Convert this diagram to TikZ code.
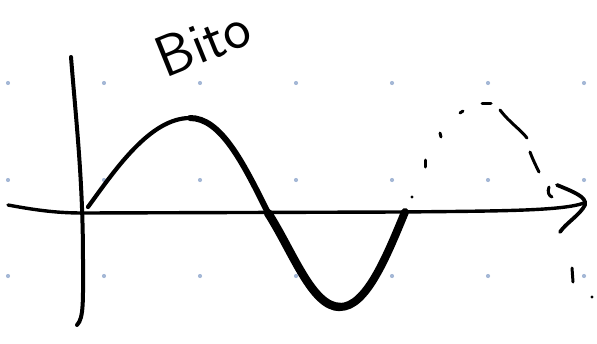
\documentclass[tikz,border=0pt]{standalone}
\usepackage{tikz}
\usetikzlibrary{calc}

\definecolor{dotblue}{RGB}{165,184,214}
\tikzset{
  pen/.style={line width=#1,line cap=round,line join=round},
  pen/.default=3pt,
}

\begin{document}
\begin{tikzpicture}[x=1pt,y=-1pt]
    \useasboundingbox (0,0) rectangle (597,343);
    % Prikgitter
    \foreach \x in {0,...,6}
      \foreach \y in {83,180,276}
        \fill[dotblue] (8+96*\x,\y) circle (2.1);
    % Lodret akse
    \coordinate (Ytop) at (71,57);
    \coordinate (Ybot) at (77,325);
    \draw[pen=4pt] (Ytop) .. controls (76,120) and (83,180) .. (83,260)
      .. controls (83,300) and (84,318) .. (Ybot);
    % Vandret akse med pil
    \coordinate (Xleft) at (8,205);
    \coordinate (Xtip) at (584,203);
    \draw[pen=3.4pt] (Xleft) .. controls (40,211) and (60,213) .. (83,213)
      -- (400,212) .. controls (500,211) and (562,211) .. (Xtip);
    \draw[pen=3.8pt] (557,185) .. controls (574,192) and (587,197) .. (585,205)
      .. controls (580,215) and (566,223) .. (560,232);
    % Bølgen (tykkere og tykkere)
    \coordinate (S0) at (88,207);
    \coordinate (Top) at (190,118);
    \coordinate (Z1) at (268,213);
    \coordinate (Bund) at (340,307);
    \coordinate (Z2) at (405,212);
    \draw[pen=4.2pt] (S0) .. controls (115,170) and (150,118) .. (Top);
    \draw[pen=6pt] (Top) .. controls (220,118) and (242,160) .. (Z1);
    \draw[pen=8.5pt] (Z1) .. controls (293,252) and (312,307) .. (Bund);
    \draw[pen=8pt] (Bund) .. controls (366,307) and (386,258) .. (Z2);
    % Stiplet fortsaettelse
    \fill (412,197) circle (1.7);
    \draw[pen=3pt] (425,160) -- (425,167);
    \draw[pen=3pt] (440,133) -- (441,137);
    \draw[pen=3pt] (460,113) -- (463,111);
    \draw[pen=3pt] (482,103) -- (491,103);
    \draw[pen=3pt] (500,110) .. controls (510,123) and (520,129) .. (527,138);
    \draw[pen=3pt] (530,152) .. controls (533,160) and (536,166) .. (539,172);
    \draw[pen=3pt] (549,187) .. controls (547,192) and (549,196) .. (552,197);
    \draw[pen=3pt] (572,268) -- (573,282);
    \fill (592,297) circle (1.7);
    % Tekst
    \node[rotate=22,font=\sffamily\fontsize{58}{62}\selectfont] (titel) at (203,42) {Bito};
\end{tikzpicture}
\end{document}
